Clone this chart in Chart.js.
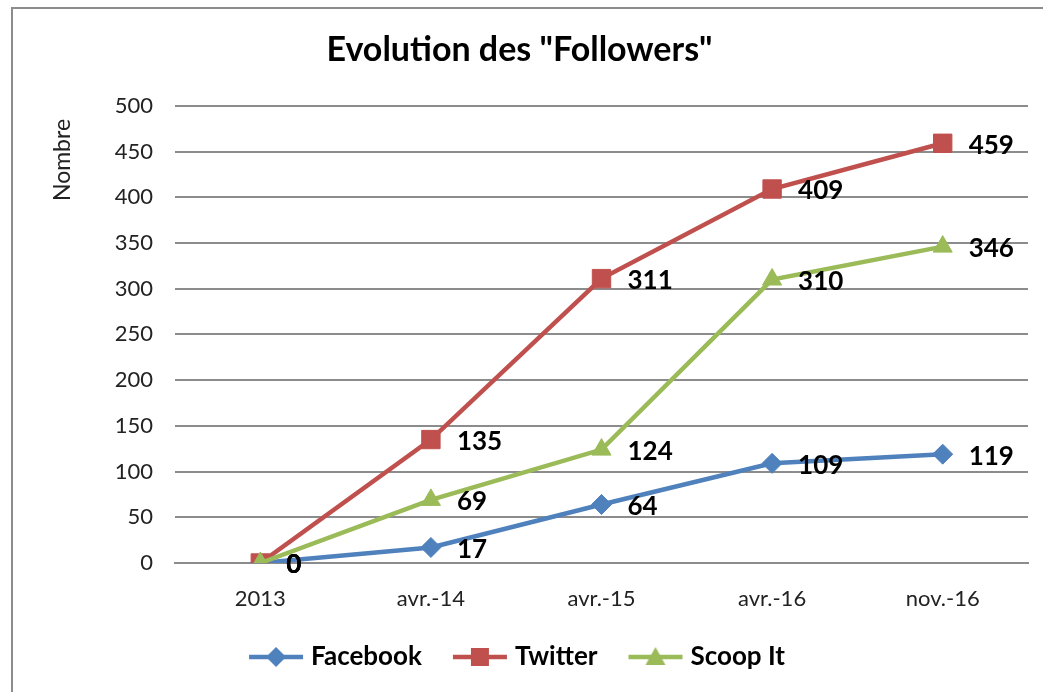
<!DOCTYPE html>
<html>
<head>
<meta charset="utf-8">
<script src="https://cdn.jsdelivr.net/npm/chart.js@4.4.0/dist/chart.umd.min.js"></script>
<style>
  html, body { margin: 0; padding: 0; background: #fff; }
  #wrap { width: 1043px; height: 692px; }
</style>
</head>
<body>
<div id="wrap"><canvas id="myChart"></canvas></div>
<script>

    // values
    var categories = ['2013', 'avr.-14', 'avr.-15', 'avr.-16', 'nov.-16'];
    var facebook = [0, 17, 64, 109, 119];
    var twitter = [0, 135, 311, 409, 459];
    var scoopIt = [0, 69, 124, 310, 346];
    var yMin = 0, yMax = 500, yStep = 50;

    var blue = '#4f81bd', red = '#c0504d', green = '#9bbb59';
    var fontFam = 'Lato, "Open Sans", sans-serif';

    // small line + marker picture for the legend, like excel does it
    function legendIcon(color, shape) {
      var c = document.createElement('canvas');
      c.width = 56; c.height = 26;
      var ctx = c.getContext('2d');
      ctx.strokeStyle = color;
      ctx.fillStyle = color;
      ctx.lineWidth = 4.5;
      ctx.beginPath();
      ctx.moveTo(1, 13); ctx.lineTo(55, 13);
      ctx.stroke();
      ctx.beginPath();
      if (shape == 'rectRot') {
        ctx.moveTo(28, 3); ctx.lineTo(38, 13); ctx.lineTo(28, 23); ctx.lineTo(18, 13);
      } else if (shape == 'rect') {
        ctx.rect(19, 4, 18, 18);
      } else {
        ctx.moveTo(28, 3); ctx.lineTo(38, 21); ctx.lineTo(18, 21);
      }
      ctx.closePath();
      ctx.fill();
      return c;
    }

    var frame = {
      id: 'frame',
      beforeDraw: function(chart) {
        var ctx = chart.ctx;
        ctx.save();
        ctx.fillStyle = '#fff';
        ctx.fillRect(0, 0, chart.width, chart.height);
        ctx.strokeStyle = '#8c8c8c';
        ctx.lineWidth = 2;
        ctx.strokeRect(12, 8, chart.width + 20, chart.height + 20);
        ctx.restore();
      },
      afterDraw: function(chart) {
        var ctx = chart.ctx;
        ctx.save();
        ctx.translate(63, 160);
        ctx.rotate(-Math.PI / 2);
        ctx.font = '23px ' + fontFam;
        ctx.fillStyle = '#222';
        ctx.textAlign = 'center';
        ctx.textBaseline = 'middle';
        ctx.fillText('Nombre', 0, 0);
        ctx.restore();
      }
    };

    var valueLabels = {
      id: 'valueLabels',
      afterDatasetsDraw: function(chart) {
        var ctx = chart.ctx;
        ctx.save();
        ctx.font = 'bold 26px ' + fontFam;
        ctx.fillStyle = '#000';
        ctx.textAlign = 'left';
        ctx.textBaseline = 'middle';
        chart.data.datasets.forEach(function(ds, i) {
          chart.getDatasetMeta(i).data.forEach(function(pt, j) {
            ctx.fillText(ds.data[j], pt.x + 26, pt.y + 2);
          });
        });
        ctx.restore();
      }
    };

    var data1 = {
      labels: categories,
      datasets: [{
        label: 'Facebook',
        data: facebook,
        borderColor: blue,
        backgroundColor: blue,
        borderWidth: 4.5,
        pointStyle: 'rectRot',
        pointRadius: 10,
        pointHoverRadius: 10,
        pointBorderWidth: 1,
        order: 2,
        icon: legendIcon(blue, 'rectRot')
      }, {
        label: 'Twitter',
        data: twitter,
        borderColor: red,
        backgroundColor: red,
        borderWidth: 4.5,
        pointStyle: 'rect',
        pointRadius: 13,
        pointHoverRadius: 13,
        pointBorderWidth: 1,
        order: 1,
        icon: legendIcon(red, 'rect')
      }, {
        label: 'Scoop It',
        data: scoopIt,
        borderColor: green,
        backgroundColor: green,
        borderWidth: 4.5,
        pointStyle: 'triangle',
        pointRadius: 11,
        pointHoverRadius: 11,
        pointBorderWidth: 1,
        order: 0,
        icon: legendIcon(green, 'triangle')
      }]
    };

    var config1 = {
      type: 'line',
      data: data1,
      plugins: [frame, valueLabels],
      options: {
        responsive: true,
        maintainAspectRatio: false,
        animation: false,
        layout: { padding: { left: 11, right: 15, top: 0, bottom: 12 } },
        plugins: {
          title: {
            display: true,
            text: 'Evolution des "Followers"',
            color: '#000',
            font: { family: fontFam, size: 34, weight: 'bold' },
            padding: { top: 30, bottom: 35 }
          },
          legend: {
            position: 'bottom',
            labels: {
              usePointStyle: true,
              pointStyleWidth: 44,
              padding: 36,
              color: '#000',
              font: { family: fontFam, size: 26, weight: 'bold' },
              generateLabels: function(chart) {
                return chart.data.datasets.map(function(ds, i) {
                  return { text: ds.label, pointStyle: ds.icon, fillStyle: ds.borderColor,
                           strokeStyle: ds.borderColor, lineWidth: 0, datasetIndex: i, fontColor: '#000' };
                });
              }
            }
          },
          tooltip: { enabled: false }
        },
        scales: {
          x: {
            offset: true,
            grid: { display: false, drawTicks: false },
            border: { color: '#8c8c8c', width: 2 },
            ticks: { color: '#222', padding: 23, font: { family: fontFam, size: 22 } },
            afterFit: function(s) { s.height = 45; }
          },
          y: {
            min: yMin,
            max: yMax,
            grid: { color: '#8c8c8c', lineWidth: 2, drawTicks: false },
            border: { display: false },
            ticks: { stepSize: yStep, color: '#222', padding: 22, font: { family: fontFam, size: 22 } },
            afterFit: function(s) { s.width = 164; }
          }
        }
      }
    };

    var myChart1 = new Chart(document.getElementById('myChart'), config1);
</script>
</body>
</html>
